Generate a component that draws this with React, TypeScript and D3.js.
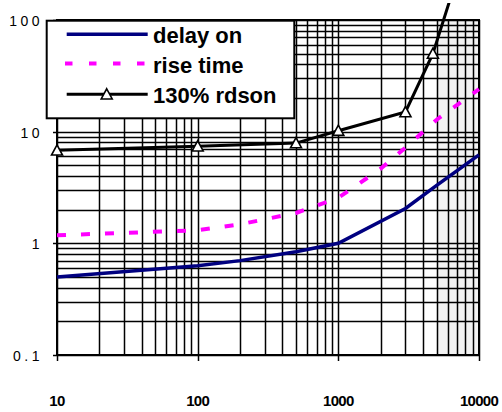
import React from "react";
import * as d3 from "d3";

const xTickValues = [10, 100, 1000, 10000];
const xTickLabels = ["10", "100", "1000", "10000"];
const yTickValues = [0.1, 1, 10, 100];
const yTickLabels = ["0.1", "1", "10", "100"];

const delayX = [10, 100, 200, 500, 1000, 3000, 5000, 10000];
const delayOn = [0.5, 0.63, 0.7, 0.84, 1.0, 2.05, 3.3, 6.2];

const riseX = [10, 100, 200, 500, 1000, 2000, 3000, 5000, 10000];
const riseTime = [1.18, 1.31, 1.48, 1.87, 2.56, 4.66, 7.2, 12.8, 24];

const rdsonX = [10, 100, 500, 1000, 3000, 4700, 10000];
const rdson = [6.8, 7.4, 7.9, 10.2, 15, 50, 1000];

const shadeRange = [5000, 10000];

const seriesNames = ["delay on", "rise time", "130% rdson"];

export default function App() {
  const W = 502, H = 412;
  const x = d3.scaleLog().domain([10, 10000]).range([57, 479]);
  const y = d3.scaleLog().domain([0.1, 100]).range([355, 20]);
  const px = (v: number) => Math.round(v) + 0.5;

  const vGrid: number[] = [];
  [10, 100, 1000].forEach((d) => {
    for (let k = 1; k <= 9; k++) vGrid.push(d * k);
  });
  vGrid.push(10000);
  const hGrid: number[] = [];
  [0.1, 1, 10].forEach((d) => {
    for (let k = 1; k <= 9; k++) hGrid.push(d * k);
  });
  hGrid.push(100);

  const line = d3
    .line<[number, number]>()
    .x((d) => x(d[0]))
    .y((d) => y(d[1]));

  const delayPts = delayX.map((v, i) => [v, delayOn[i]] as [number, number]);
  const risePts = riseX.map((v, i) => [v, riseTime[i]] as [number, number]);
  const rdsonPts = rdsonX.map((v, i) => [v, rdson[i]] as [number, number]);

  const tri = (cx: number, cy: number, s = 5.5) =>
    `M${cx},${cy - s} L${cx + s},${cy + s * 0.85} L${cx - s},${cy + s * 0.85} Z`;

  const font = "Liberation Sans, Arial, sans-serif";
  const lg = { x: 46.7, y: 20.7, w: 247.6, h: 97.6 };
  const legendRows = [34.3, 63.5, 94.3];

  return (
    <svg
      width={W}
      height={H}
      style={{ position: "absolute", left: 0, top: 0, background: "#fff" }}
    >
      <defs>
        <clipPath id="dataClip">
          <rect x={0} y={3} width={W} height={H} />
        </clipPath>
      </defs>
      <rect
        x={x(shadeRange[0])}
        y={y(100)}
        width={x(shadeRange[1]) - x(shadeRange[0])}
        height={y(0.1) - y(100)}
        fill="#f3f3f3"
      />
      {vGrid.map((v, i) => (
        <line
          key={"v" + i}
          x1={px(x(v))}
          x2={px(x(v))}
          y1={y(0.1)}
          y2={y(100)}
          stroke="#000"
          strokeWidth={1.5}
        />
      ))}
      {hGrid.map((v, i) => (
        <line
          key={"h" + i}
          x1={x(10)}
          x2={x(10000)}
          y1={px(y(v))}
          y2={px(y(v))}
          stroke="#000"
          strokeWidth={1.5}
        />
      ))}
      <rect
        x={x(10)}
        y={y(100)}
        width={x(10000) - x(10)}
        height={y(0.1) - y(100)}
        fill="none"
        stroke="#000"
        strokeWidth={2}
      />
      {xTickValues.map((v, i) => (
        <g key={"xt" + i}>
          <line x1={px(x(v))} x2={px(x(v))} y1={y(0.1)} y2={y(0.1) + 6} stroke="#000" strokeWidth={1.5} />
          <text
            x={x(v)}
            y={406}
            textAnchor="middle"
            fontFamily={font}
            fontWeight="bold"
            fontSize={15}
            letterSpacing={-0.7}
          >
            {xTickLabels[i]}
          </text>
        </g>
      ))}
      {yTickValues.map((v, i) => (
        <g key={"yt" + i}>
          <line x1={x(10) - 4} x2={x(10)} y1={px(y(v))} y2={px(y(v))} stroke="#000" strokeWidth={1.5} />
          <text
            x={43}
            y={y(v) + 6}
            textAnchor="end"
            fontFamily={font}
            fontSize={14}
            letterSpacing={3.5}
          >
            {yTickLabels[i]}
          </text>
        </g>
      ))}
      <g clipPath="url(#dataClip)">
        <path d={line(delayPts) || ""} fill="none" stroke="#000080" strokeWidth={3.5} />
        <path
          d={line(risePts) || ""}
          fill="none"
          stroke="#ff00ff"
          strokeWidth={4}
          strokeDasharray="9 15"
        />
        <path d={line(rdsonPts) || ""} fill="none" stroke="#000" strokeWidth={3} />
        {rdsonPts.map((p, i) => (
          <path
            key={"m" + i}
            d={tri(x(p[0]), y(p[1]))}
            fill="#fff"
            stroke="#000"
            strokeWidth={1.6}
          />
        ))}
      </g>
      <rect x={lg.x} y={lg.y} width={lg.w} height={lg.h} fill="#fff" stroke="#000" strokeWidth={2} />
      <line x1={66.7} x2={147.7} y1={legendRows[0]} y2={legendRows[0]} stroke="#000080" strokeWidth={3.5} />
      <line
        x1={65}
        x2={147.7}
        y1={legendRows[1]}
        y2={legendRows[1]}
        stroke="#ff00ff"
        strokeWidth={4}
        strokeDasharray="7.5 16.5"
      />
      <line x1={66.7} x2={147.7} y1={legendRows[2]} y2={legendRows[2]} stroke="#000" strokeWidth={3} />
      <path d={tri(106.7, legendRows[2])} fill="#fff" stroke="#000" strokeWidth={1.6} />
      {seriesNames.map((s, i) => (
        <text
          key={"lt" + i}
          x={153}
          y={legendRows[i] + 9}
          fontFamily={font}
          fontWeight="bold"
          fontSize={22}
        >
          {s}
        </text>
      ))}
    </svg>
  );
}
